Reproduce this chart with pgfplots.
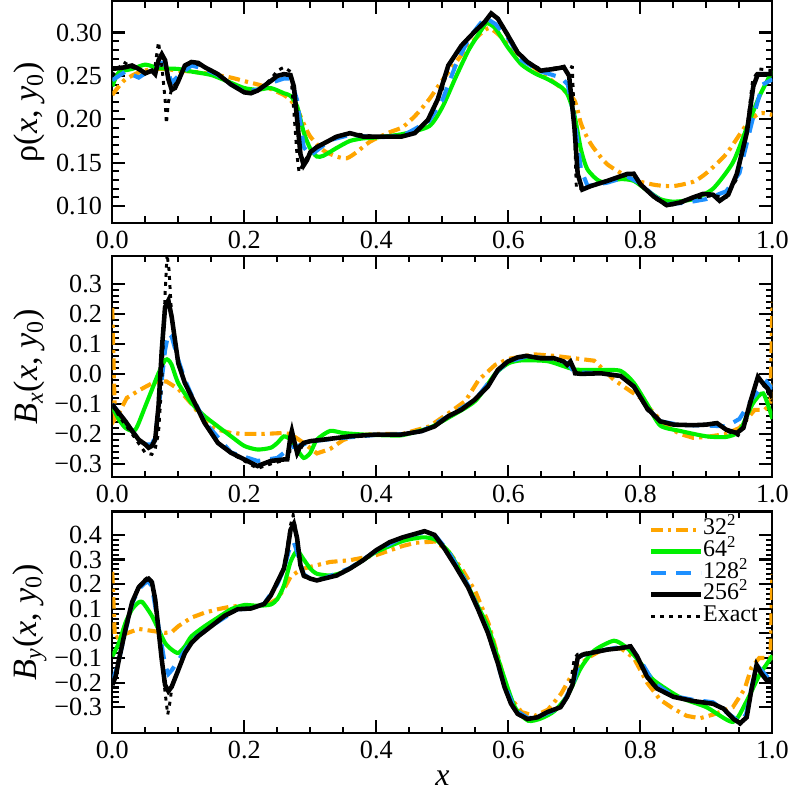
\documentclass[border=0pt]{standalone}
\usepackage{fontspec}
\setmainfont{Liberation Serif}
\usepackage{pgfplots}
\pgfplotsset{compat=1.18}
\usetikzlibrary{calc}

\definecolor{c32}{RGB}{255,165,0}
\definecolor{c64}{RGB}{0,240,0}
\definecolor{c128}{RGB}{30,144,255}

\pgfplotsset{
  panel/.style={
    width=10.19cm, height=3.42cm, scale only axis,
    xmin=0, xmax=1,
    xtick={0,0.2,0.4,0.6,0.8,1}, xticklabels={0.0,0.2,0.4,0.6,0.8,1.0},
    minor x tick num=3, minor y tick num=4,
    major tick length=0.2cm, minor tick length=0.1cm,
    tick align=inside, tick pos=both,
    axis line style={line width=0.9pt},
    tick style={line width=0.9pt, black},
    tick label style={font=\fontsize{11.5}{13}\selectfont},
    yticklabel style={xshift=-1pt},
    every axis y label/.style={at={(axis description cs:-0.125,0.5)}, rotate=90, anchor=center,
      font=\fontsize{15}{17}\selectfont},
  },
  s32/.style={c32, line width=1.8pt, dash pattern=on 0.18cm off 0.08cm on 0.05cm off 0.08cm},
  s64/.style={c64, line width=1.8pt},
  s128/.style={c128, line width=1.8pt, dash pattern=on 0.23cm off 0.155cm},
  s256/.style={black, line width=2pt},
  sex/.style={black, line width=1.3pt, dash pattern=on 0.06cm off 0.08cm},
}

\begin{document}
\begin{tikzpicture}

% ---------------- rho ----------------
\begin{axis}[panel, name=p1, at={(0,0)}, anchor=north west,
  ymin=0.0806, ymax=0.336,
  ytick={0.10,0.15,0.20,0.25,0.30}, yticklabels={0.10,0.15,0.20,0.25,0.30},
  ylabel={ρ(\textit{x}, \textit{y}\textsubscript{0})}]
\addplot[s32, smooth, tension=0.4] coordinates {
(0,0.228) (0.01,0.238) (0.02,0.246) (0.04,0.254) (0.06,0.258) (0.08,0.258) (0.10,0.256)
(0.12,0.255) (0.15,0.252) (0.18,0.248) (0.20,0.244) (0.23,0.238) (0.26,0.228) (0.27,0.222)
(0.28,0.212) (0.29,0.195) (0.30,0.18) (0.32,0.164) (0.34,0.157) (0.355,0.155) (0.37,0.162)
(0.39,0.174) (0.42,0.185) (0.44,0.191) (0.46,0.205) (0.48,0.223) (0.50,0.245) (0.52,0.265)
(0.54,0.285) (0.56,0.300) (0.57,0.305) (0.58,0.301) (0.60,0.287) (0.62,0.272) (0.64,0.259)
(0.66,0.248) (0.68,0.236) (0.70,0.222) (0.71,0.195) (0.72,0.178) (0.73,0.166) (0.75,0.148)
(0.78,0.134) (0.80,0.128) (0.825,0.124) (0.85,0.123) (0.88,0.128) (0.90,0.138) (0.93,0.16)
(0.96,0.193) (0.98,0.207) (1.0,0.205)};
\addplot[s64, smooth, tension=0.4] coordinates {
(0,0.238) (0.01,0.254) (0.03,0.258) (0.05,0.263) (0.07,0.259) (0.10,0.258) (0.12,0.255)
(0.15,0.251) (0.18,0.242) (0.20,0.236) (0.22,0.234) (0.24,0.236) (0.26,0.230) (0.27,0.227)
(0.28,0.215) (0.29,0.185) (0.30,0.166) (0.31,0.157) (0.32,0.158) (0.34,0.167) (0.36,0.175)
(0.38,0.178) (0.40,0.179) (0.44,0.183) (0.48,0.192) (0.50,0.214) (0.52,0.248) (0.54,0.280)
(0.56,0.304) (0.567,0.311) (0.58,0.305) (0.60,0.282) (0.62,0.263) (0.64,0.253) (0.66,0.246)
(0.68,0.237) (0.69,0.228) (0.70,0.205) (0.71,0.165) (0.72,0.142) (0.74,0.128) (0.77,0.131)
(0.79,0.129) (0.81,0.118) (0.83,0.108) (0.85,0.105) (0.88,0.108) (0.91,0.120) (0.94,0.150)
(0.96,0.188) (0.98,0.226) (1.0,0.256)};
\addplot[s128] coordinates {
(0,0.245) (0.02,0.255) (0.04,0.248) (0.06,0.258) (0.075,0.265) (0.08,0.264) (0.09,0.242)
(0.10,0.250) (0.12,0.262) (0.14,0.258) (0.16,0.251) (0.18,0.240) (0.20,0.232) (0.22,0.234)
(0.24,0.242) (0.26,0.247) (0.27,0.247) (0.28,0.222) (0.29,0.168) (0.30,0.158) (0.31,0.164)
(0.33,0.176) (0.36,0.182) (0.40,0.179) (0.44,0.181) (0.48,0.198) (0.50,0.222) (0.52,0.262)
(0.54,0.293) (0.555,0.308) (0.565,0.317) (0.58,0.31) (0.60,0.293) (0.62,0.268) (0.65,0.255)
(0.68,0.248) (0.69,0.240) (0.70,0.200) (0.71,0.142) (0.72,0.123) (0.75,0.127) (0.78,0.134)
(0.80,0.126) (0.82,0.112) (0.84,0.102) (0.87,0.104) (0.90,0.108) (0.93,0.117) (0.95,0.138)
(0.97,0.20) (0.985,0.240) (1.0,0.246)};
\addplot[s256] coordinates {
(0,0.258) (0.02,0.26) (0.03,0.262) (0.04,0.258) (0.05,0.253) (0.06,0.256) (0.065,0.252)
(0.07,0.268) (0.075,0.275) (0.08,0.268) (0.085,0.246) (0.09,0.234) (0.095,0.236) (0.10,0.244)
(0.11,0.262) (0.12,0.266) (0.13,0.265) (0.14,0.260) (0.16,0.252) (0.18,0.240) (0.20,0.231)
(0.21,0.230) (0.22,0.233) (0.24,0.244) (0.25,0.250) (0.26,0.252) (0.27,0.251) (0.275,0.238)
(0.28,0.200) (0.285,0.160) (0.29,0.147) (0.295,0.153) (0.30,0.162) (0.31,0.168) (0.32,0.172)
(0.34,0.180) (0.36,0.184) (0.38,0.180) (0.40,0.180) (0.438,0.180) (0.458,0.184) (0.478,0.199)
(0.493,0.223) (0.509,0.262) (0.529,0.285) (0.549,0.301) (0.564,0.312) (0.574,0.322)
(0.584,0.316) (0.599,0.297) (0.614,0.277) (0.629,0.266) (0.649,0.256) (0.669,0.258)
(0.684,0.260) (0.692,0.250) (0.700,0.191) (0.705,0.137) (0.712,0.119) (0.725,0.123)
(0.75,0.129) (0.78,0.137) (0.79,0.137) (0.80,0.125) (0.82,0.111) (0.84,0.101) (0.86,0.104)
(0.88,0.110) (0.895,0.114) (0.91,0.113) (0.92,0.106) (0.933,0.113) (0.946,0.137)
(0.961,0.184) (0.971,0.238) (0.978,0.252) (1.0,0.252)};
\addplot[sex] coordinates {
(0,0.25) (0.017,0.266) (0.03,0.26) (0.05,0.254) (0.06,0.256) (0.065,0.262) (0.07,0.289)
(0.075,0.262) (0.08,0.223) (0.082,0.195) (0.085,0.22) (0.09,0.235) (0.10,0.245) (0.11,0.262)
(0.12,0.266) (0.14,0.26) (0.16,0.252) (0.18,0.24) (0.20,0.231) (0.22,0.233) (0.24,0.246)
(0.25,0.256) (0.26,0.26) (0.27,0.255) (0.275,0.21) (0.28,0.157) (0.283,0.139) (0.29,0.15)
(0.30,0.163) (0.32,0.172) (0.34,0.181) (0.36,0.184) (0.40,0.18) (0.44,0.18) (0.46,0.185)
(0.48,0.2) (0.50,0.235) (0.51,0.263) (0.53,0.287) (0.55,0.302) (0.565,0.313) (0.575,0.322)
(0.585,0.316) (0.60,0.297) (0.615,0.277) (0.63,0.266) (0.65,0.257) (0.67,0.259) (0.69,0.262)
(0.697,0.26) (0.70,0.19) (0.703,0.12) (0.71,0.12) (0.73,0.124) (0.75,0.129) (0.79,0.138)
(0.80,0.126) (0.82,0.11) (0.84,0.1) (0.86,0.103) (0.88,0.109) (0.91,0.112) (0.93,0.11)
(0.945,0.13) (0.96,0.18) (0.97,0.245) (0.98,0.258) (1.0,0.256)};
\end{axis}

% ---------------- Bx ----------------
\begin{axis}[panel, name=p2, at={($(p1.south west)+(0,-0.51cm)$)}, anchor=north west,
  ymin=-0.345, ymax=0.393,
  ytick={-0.3,-0.2,-0.1,0,0.1,0.2,0.3}, yticklabels={−0.3,−0.2,−0.1,0.0,0.1,0.2,0.3},
  ylabel={\textit{B}\textsubscript{\textit{x}}(\textit{x}, \textit{y}\textsubscript{0})}]
\addplot[s32] coordinates {
(0,0.22) (0.004,-0.15) (0.01,-0.13) (0.022,-0.08) (0.042,-0.053) (0.063,-0.028) (0.082,-0.025)
(0.10,-0.05) (0.12,-0.10) (0.142,-0.163) (0.16,-0.186) (0.18,-0.197) (0.20,-0.200) (0.23,-0.200)
(0.257,-0.197) (0.27,-0.200) (0.29,-0.23) (0.31,-0.265) (0.33,-0.25) (0.35,-0.22) (0.37,-0.205)
(0.40,-0.200) (0.44,-0.20) (0.48,-0.175) (0.51,-0.13) (0.535,-0.09) (0.555,-0.02) (0.58,0.03)
(0.60,0.05) (0.64,0.065) (0.67,0.06) (0.70,0.052) (0.73,0.044) (0.76,-0.02) (0.80,-0.08)
(0.82,-0.13) (0.84,-0.175) (0.86,-0.20) (0.88,-0.213) (0.90,-0.21) (0.93,-0.2) (0.95,-0.18)
(0.973,-0.12) (0.988,-0.12) (0.997,-0.10) (1.0,0.24)};
\addplot[s64, smooth, tension=0.4] coordinates {
(0,-0.108) (0.01,-0.152) (0.02,-0.18) (0.03,-0.19) (0.035,-0.186) (0.04,-0.164) (0.05,-0.108)
(0.06,-0.053) (0.07,0.002) (0.08,0.046) (0.085,0.046) (0.09,0.03) (0.10,-0.031) (0.12,-0.097)
(0.14,-0.141) (0.16,-0.175) (0.18,-0.208) (0.20,-0.24) (0.22,-0.252) (0.24,-0.246) (0.25,-0.23)
(0.26,-0.208) (0.27,-0.219) (0.28,-0.252) (0.29,-0.28) (0.30,-0.263) (0.31,-0.219) (0.33,-0.19)
(0.35,-0.197) (0.38,-0.202) (0.42,-0.205) (0.44,-0.204) (0.48,-0.18) (0.51,-0.145) (0.55,-0.09)
(0.58,0.00) (0.60,0.035) (0.62,0.045) (0.66,0.042) (0.70,0.015) (0.74,0.013) (0.77,0.01)
(0.79,-0.03) (0.81,-0.10) (0.83,-0.172) (0.86,-0.19) (0.90,-0.208) (0.93,-0.21) (0.95,-0.19)
(0.97,-0.10) (0.986,-0.065) (1.0,-0.15)};
\addplot[s128] coordinates {
(0,-0.10) (0.02,-0.16) (0.04,-0.219) (0.05,-0.235) (0.06,-0.235) (0.065,-0.21) (0.07,-0.12)
(0.08,0.08) (0.085,0.135) (0.09,0.124) (0.10,0.046) (0.11,-0.02) (0.12,-0.07) (0.14,-0.16)
(0.18,-0.262) (0.22,-0.29) (0.25,-0.28) (0.26,-0.263) (0.27,-0.245) (0.28,-0.24) (0.29,-0.235)
(0.30,-0.225) (0.34,-0.215) (0.40,-0.203) (0.44,-0.201) (0.47,-0.19) (0.51,-0.14) (0.55,-0.085)
(0.585,0.012) (0.60,0.04) (0.627,0.058) (0.67,0.05) (0.69,0.035) (0.70,0.005) (0.74,0.002)
(0.77,-0.007) (0.79,-0.042) (0.81,-0.114) (0.83,-0.158) (0.86,-0.17) (0.90,-0.172) (0.93,-0.175)
(0.95,-0.15) (0.97,-0.08) (0.991,-0.026) (1.0,-0.05)};
\addplot[s256] coordinates {
(0,-0.103) (0.01,-0.13) (0.02,-0.158) (0.03,-0.19) (0.04,-0.219) (0.05,-0.235) (0.055,-0.246)
(0.06,-0.24) (0.065,-0.219) (0.07,-0.108) (0.075,0.08) (0.08,0.223) (0.085,0.245) (0.09,0.19)
(0.10,0.035) (0.11,-0.031) (0.12,-0.075) (0.14,-0.164) (0.16,-0.23) (0.18,-0.263) (0.20,-0.285)
(0.22,-0.307) (0.24,-0.29) (0.26,-0.285) (0.265,-0.285) (0.27,-0.208) (0.272,-0.19) (0.275,-0.219)
(0.28,-0.263) (0.285,-0.24) (0.29,-0.23) (0.30,-0.224) (0.32,-0.219) (0.36,-0.208) (0.40,-0.202)
(0.438,-0.202) (0.468,-0.191) (0.488,-0.175) (0.509,-0.141) (0.529,-0.119) (0.549,-0.086)
(0.569,-0.042) (0.584,0.013) (0.599,0.041) (0.614,0.055) (0.627,0.06) (0.649,0.052)
(0.669,0.052) (0.684,0.041) (0.689,0.03) (0.694,0.041) (0.702,0.002) (0.71,0.0) (0.74,0.002)
(0.77,-0.007) (0.79,-0.042) (0.81,-0.114) (0.83,-0.158) (0.85,-0.169) (0.88,-0.171)
(0.90,-0.169) (0.916,-0.164) (0.93,-0.186) (0.946,-0.197) (0.956,-0.18) (0.966,-0.097)
(0.978,-0.01) (0.985,-0.03) (0.993,-0.05) (1.0,-0.08)};
\addplot[sex] coordinates {
(0,-0.10) (0.01,-0.14) (0.03,-0.2) (0.05,-0.263) (0.06,-0.268) (0.065,-0.25) (0.07,-0.197)
(0.075,-0.03) (0.08,0.267) (0.083,0.40) (0.086,0.345) (0.09,0.19) (0.095,0.1) (0.10,0.03)
(0.11,-0.03) (0.12,-0.075) (0.14,-0.165) (0.16,-0.232) (0.18,-0.265) (0.20,-0.29) (0.22,-0.315)
(0.24,-0.30) (0.26,-0.288) (0.268,-0.28) (0.272,-0.19) (0.276,-0.23) (0.28,-0.27) (0.29,-0.232)
(0.30,-0.225) (0.32,-0.218) (0.36,-0.207) (0.40,-0.202) (0.44,-0.202) (0.47,-0.19) (0.49,-0.174)
(0.51,-0.14) (0.53,-0.118) (0.55,-0.085) (0.57,-0.04) (0.585,0.015) (0.60,0.042) (0.615,0.056)
(0.63,0.06) (0.65,0.053) (0.67,0.053) (0.685,0.042) (0.69,0.03) (0.695,0.043) (0.70,0.0)
(0.74,0.002) (0.77,-0.007) (0.79,-0.04) (0.81,-0.12) (0.83,-0.16) (0.86,-0.17) (0.90,-0.168)
(0.916,-0.162) (0.93,-0.19) (0.948,-0.205) (0.96,-0.16) (0.968,-0.09) (0.978,-0.01) (0.99,-0.05)
(1.0,-0.09)};
\end{axis}

% ---------------- By ----------------
\begin{axis}[panel, name=p3, at={($(p2.south west)+(0,-0.525cm)$)}, anchor=north west,
  ymin=-0.405, ymax=0.495,
  ytick={-0.3,-0.2,-0.1,0,0.1,0.2,0.3,0.4}, yticklabels={−0.3,−0.2,−0.1,0.0,0.1,0.2,0.3,0.4},
  ylabel={\textit{B}\textsubscript{\textit{y}}(\textit{x}, \textit{y}\textsubscript{0})},
  xlabel={\textit{x}},
  xlabel style={at={(axis description cs:0.5,0)}, anchor=center, yshift=-0.70cm, inner sep=0pt,
    font=\fontsize{14}{15}\selectfont},
  legend style={at={(rel axis cs:0.812,0.968)}, anchor=north west, draw=none, fill=none,
    inner sep=0pt, font=\fontsize{10.5}{12}\selectfont, /tikz/row sep=0pt, /tikz/column sep=0pt,
    nodes={inner sep=0pt, text height=7pt, text depth=2.5pt}},
  legend cell align=left,
  legend image code/.code={\draw[#1] (0cm,0cm) -- (0.77cm,0cm);}]
\addplot[s32] coordinates {
(0,0.25) (0.004,-0.02) (0.017,-0.005) (0.04,0.018) (0.06,0.01) (0.08,0.002) (0.09,0.005)
(0.10,0.029) (0.12,0.064) (0.14,0.084) (0.16,0.098) (0.18,0.109) (0.20,0.112) (0.22,0.112)
(0.24,0.124) (0.25,0.14) (0.26,0.18) (0.27,0.229) (0.28,0.249) (0.29,0.263) (0.31,0.277)
(0.33,0.29) (0.36,0.297) (0.40,0.318) (0.44,0.355) (0.46,0.368) (0.49,0.373) (0.51,0.33)
(0.53,0.26) (0.55,0.17) (0.57,0.04) (0.585,-0.10) (0.60,-0.25) (0.62,-0.32) (0.64,-0.335)
(0.66,-0.31) (0.68,-0.245) (0.70,-0.15) (0.72,-0.10) (0.74,-0.07) (0.77,-0.06) (0.79,-0.10)
(0.81,-0.20) (0.83,-0.27) (0.85,-0.306) (0.87,-0.335) (0.89,-0.345) (0.91,-0.33) (0.94,-0.30)
(0.958,-0.225) (0.968,-0.14) (0.98,-0.10) (0.997,-0.10) (1.0,0.24)};
\addlegendentry{32\textsuperscript{2}}
\addplot[s64, smooth, tension=0.4] coordinates {
(0,-0.094) (0.01,-0.039) (0.02,0.043) (0.03,0.098) (0.04,0.126) (0.045,0.128) (0.05,0.112)
(0.06,0.071) (0.07,0.016) (0.08,-0.039) (0.09,-0.066) (0.10,-0.08) (0.11,-0.053) (0.12,-0.012)
(0.14,0.029) (0.16,0.064) (0.18,0.098) (0.20,0.115) (0.22,0.112) (0.24,0.117) (0.25,0.139)
(0.26,0.194) (0.27,0.29) (0.28,0.335) (0.29,0.30) (0.30,0.263) (0.31,0.242) (0.33,0.235)
(0.35,0.249) (0.38,0.297) (0.40,0.331) (0.44,0.375) (0.47,0.39) (0.49,0.38) (0.51,0.33)
(0.53,0.24) (0.55,0.13) (0.57,0.02) (0.59,-0.15) (0.61,-0.30) (0.63,-0.355) (0.65,-0.345)
(0.67,-0.315) (0.69,-0.25) (0.71,-0.14) (0.73,-0.07) (0.76,-0.03) (0.78,-0.06) (0.80,-0.12)
(0.82,-0.19) (0.86,-0.26) (0.90,-0.30) (0.94,-0.36) (0.96,-0.28) (0.98,-0.17) (0.99,-0.13)
(1.0,-0.09)};
\addlegendentry{64\textsuperscript{2}}
\addplot[s128] coordinates {
(0,-0.20) (0.01,-0.11) (0.02,0.01) (0.03,0.12) (0.04,0.18) (0.05,0.205) (0.055,0.21) (0.06,0.19)
(0.07,0.03) (0.08,-0.13) (0.085,-0.165) (0.09,-0.15) (0.10,-0.11) (0.12,-0.03) (0.15,0.03)
(0.19,0.098) (0.21,0.10) (0.23,0.12) (0.25,0.20) (0.26,0.26) (0.27,0.36) (0.275,0.37) (0.28,0.33)
(0.29,0.24) (0.30,0.222) (0.32,0.222) (0.36,0.265) (0.40,0.335) (0.44,0.39) (0.47,0.41)
(0.49,0.395) (0.51,0.33) (0.54,0.19) (0.57,0.0) (0.59,-0.18) (0.61,-0.31) (0.63,-0.345)
(0.65,-0.335) (0.68,-0.30) (0.70,-0.19) (0.71,-0.09) (0.74,-0.07) (0.77,-0.055) (0.785,-0.055)
(0.80,-0.11) (0.82,-0.20) (0.85,-0.255) (0.88,-0.27) (0.91,-0.28) (0.93,-0.32) (0.95,-0.36)
(0.96,-0.33) (0.97,-0.20) (0.98,-0.14) (0.99,-0.17) (1.0,-0.20)};
\addlegendentry{128\textsuperscript{2}}
\addplot[s256] coordinates {
(0,-0.21) (0.005,-0.176) (0.01,-0.108) (0.02,0.016) (0.03,0.126) (0.04,0.187) (0.05,0.215)
(0.055,0.222) (0.06,0.208) (0.065,0.139) (0.07,0.016) (0.075,-0.108) (0.08,-0.21) (0.085,-0.235)
(0.09,-0.217) (0.10,-0.149) (0.11,-0.08) (0.12,-0.039) (0.13,-0.012) (0.15,0.029) (0.17,0.071)
(0.19,0.098) (0.21,0.101) (0.23,0.119) (0.24,0.153) (0.25,0.208) (0.26,0.263) (0.265,0.331)
(0.27,0.42) (0.275,0.445) (0.28,0.386) (0.285,0.277) (0.29,0.235) (0.30,0.222) (0.31,0.215)
(0.32,0.222) (0.34,0.235) (0.36,0.263) (0.38,0.297) (0.40,0.338) (0.42,0.37) (0.44,0.39)
(0.46,0.405) (0.473,0.415) (0.488,0.40) (0.503,0.345) (0.519,0.277) (0.539,0.187) (0.554,0.098)
(0.569,0.002) (0.584,-0.121) (0.594,-0.217) (0.604,-0.286) (0.614,-0.327) (0.629,-0.348)
(0.644,-0.341) (0.659,-0.32) (0.679,-0.30) (0.689,-0.258) (0.697,-0.21) (0.705,-0.10)
(0.712,-0.087) (0.73,-0.077) (0.75,-0.066) (0.77,-0.06) (0.785,-0.053) (0.795,-0.094)
(0.81,-0.176) (0.825,-0.224) (0.85,-0.258) (0.88,-0.275) (0.91,-0.286) (0.926,-0.306)
(0.941,-0.348) (0.951,-0.365) (0.961,-0.341) (0.968,-0.231) (0.976,-0.128) (0.983,-0.162)
(0.991,-0.19) (1.0,-0.2)};
\addlegendentry{256\textsuperscript{2}}
\addplot[sex] coordinates {
(0,-0.20) (0.005,-0.17) (0.01,-0.11) (0.02,0.01) (0.03,0.13) (0.04,0.19) (0.05,0.22) (0.055,0.23)
(0.06,0.21) (0.065,0.14) (0.07,0.02) (0.075,-0.11) (0.08,-0.24) (0.084,-0.33) (0.088,-0.27)
(0.09,-0.22) (0.10,-0.15) (0.11,-0.08) (0.12,-0.04) (0.15,0.03) (0.17,0.07) (0.19,0.098)
(0.21,0.10) (0.23,0.12) (0.24,0.155) (0.25,0.21) (0.26,0.27) (0.265,0.35) (0.27,0.44) (0.274,0.48)
(0.278,0.42) (0.282,0.33) (0.286,0.26) (0.29,0.23) (0.30,0.222) (0.31,0.215) (0.32,0.222)
(0.34,0.235) (0.36,0.263) (0.38,0.297) (0.40,0.338) (0.42,0.37) (0.44,0.39) (0.46,0.405)
(0.473,0.415) (0.488,0.40) (0.503,0.345) (0.519,0.277) (0.539,0.187) (0.554,0.098) (0.569,0.0)
(0.584,-0.125) (0.594,-0.22) (0.604,-0.29) (0.614,-0.33) (0.629,-0.35) (0.644,-0.34) (0.659,-0.32)
(0.679,-0.30) (0.689,-0.26) (0.695,-0.19) (0.70,-0.10) (0.705,-0.085) (0.73,-0.075) (0.75,-0.065)
(0.77,-0.058) (0.785,-0.05) (0.795,-0.094) (0.81,-0.18) (0.825,-0.226) (0.85,-0.258) (0.88,-0.275)
(0.91,-0.286) (0.926,-0.31) (0.941,-0.35) (0.951,-0.37) (0.961,-0.34) (0.968,-0.23) (0.976,-0.13)
(0.983,-0.16) (0.991,-0.19) (1.0,-0.2)};
\addlegendentry{Exact}
\end{axis}

\pgfresetboundingbox
\path ($(p1.north west)+(-1.733cm,0.02cm)$) rectangle ($(p3.south east)+(0.28cm,-0.91cm)$);
\end{tikzpicture}
\end{document}
